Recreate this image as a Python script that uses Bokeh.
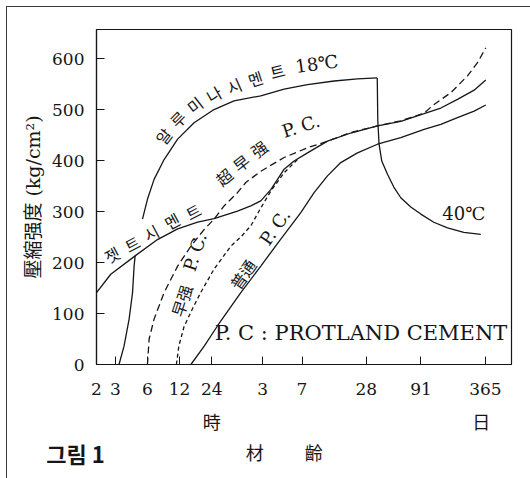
from bokeh.plotting import figure
from bokeh.models import FixedTicker, ColumnDataSource, Range1d, LogAxis
from bokeh.core.properties import value
from bokeh.embed import file_html
from bokeh.resources import INLINE

# ---- data (age in hours, compressive strength in kg/cm2) ----
x_ticks = [2, 3, 6, 12, 24, 72, 168, 672, 2184, 8760]
x_tick_labels = ["2", "3", "6", "12", "24", "3", "7", "28", "91", "365"]
y_ticks = [0, 100, 200, 300, 400, 500, 600]

jet_h = [2.0, 2.72, 4.60, 7.45, 11.5, 17.7, 25.2, 41.8, 55.7, 69.1, 85.7, 99.1,
         114.2, 141.6, 189, 291, 481, 855, 1413, 2335, 3350, 4800, 6870, 8830]
jet_v = [141, 177, 213, 245, 266, 279, 286, 301, 311, 321, 343, 363,
         383, 399, 415, 438, 454, 468, 477, 492, 503, 520, 538, 558]

jet_rise_h = [3.25, 3.62, 4.04, 4.35, 4.50, 4.60]
jet_rise_v = [0, 36, 89, 141, 193, 213]

alumina_h = [5.39, 6.00, 6.92, 8.59, 11.5, 16.4, 25.2, 38.8, 69.1, 114.2, 189, 336, 556, 851]
alumina_v = [285, 324, 363, 402, 442, 474, 500, 517, 527, 540, 549, 556, 560, 562]

alumina40_h = [851, 861, 885, 938, 1061, 1216, 1413, 1753, 2177, 2878, 3871, 5495, 7930]
alumina40_v = [562, 478, 432, 399, 373, 348, 327, 309, 295, 279, 268, 259, 255]

super_h = [6.00, 6.22, 6.92, 8.59, 11.5, 15.3, 20.4, 25.2, 31.3, 41.8, 50.0, 69.1,
           114.2, 189, 291, 481, 855, 1413, 2335, 2897, 4152, 5955, 7385, 8830]
super_v = [0, 50, 89, 141, 193, 232, 265, 285, 311, 337, 357, 379,
           406, 425, 438, 455, 468, 478, 493, 510, 533, 566, 592, 621]

early_h = [11.2, 11.8, 13.2, 15.8, 18.9, 25.2, 36.2, 44.9, 55.7, 69.1, 85.7, 114.2, 152.4]
early_v = [0, 36, 74, 109, 141, 187, 232, 250, 272, 307, 340, 376, 402]

normal_h = [15.3, 20.4, 27.2, 44.9, 69.1, 106.3, 163.7, 218, 291, 387.5, 555.6, 855,
            1413, 2335, 3350, 4800, 6870, 8830]
normal_v = [0, 36, 76, 141, 193, 246, 298, 337, 370, 396, 415, 432,
            445, 461, 471, 484, 497, 509]

# in-plot labels
lab_text = ["알", "루", "미", "나", "시", "멘", "트", "18℃",
            "젯", "트", "시", "멘", "트",
            "超", "早", "强", "P. C.",
            "早强", "P. C.",
            "普通", "P. C.",
            "P. C : PROTLAND CEMENT", "40℃"]
lab_h = [8.72, 11.79, 17.0, 25.6, 39.4, 62.0, 99.7, 231,
         2.84, 4.375, 6.59, 10.36, 16.3,
         31.8, 45.9, 67.6, 163.7,
         12.85, 16.65,
         47.9, 93.4,
         600, 5495]
lab_v = [446, 479, 507, 528, 544, 558, 573, 590,
         213, 234, 256, 279, 297,
         366, 393, 421, 468,
         124.5, 220.6,
         175.5, 269.6,
         62, 296]
lab_angle = [52, 45, 38, 30, 24, 18, 14, 8,
             28, 28, 28, 28, 28,
             40, 38, 35, 18,
             72, 72,
             55, 55,
             0, 0]
lab_size = ["16px"] * 7 + ["18px"] + ["16px"] * 5 + ["16px"] * 3 + ["18px"] + \
           ["16px", "18px", "16px", "18px", "21px", "18px"]

# texts below the axis
unit_ticks = [24, 8000]
unit_labels = ["時", "日"]
title_ticks = [60.7, 216.6]
title_labels = ["材", "齡"]
fig_ticks = [2.0001]
fig_labels = ["그림  1\u3000   "]

FONT = "DejaVu Serif, Noto Sans CJK KR"
CJK = "Noto Sans CJK KR"
INK = "#161616"

p = figure(width=530, height=478, x_axis_type="log",
           x_range=Range1d(2, 15380), y_range=Range1d(0, 657),
           output_backend="svg", toolbar_location=None,
           min_border_left=96, min_border_right=19,
           min_border_top=29, min_border_bottom=114)
p.styles = {"box-shadow": "inset 6px 6px 0 0 white, inset 7px 7px 0 0 #3a3a3a"}
p.xgrid.visible = False
p.ygrid.visible = False
p.outline_line_color = INK
p.outline_line_width = 1.2
p.background_fill_color = "white"
p.border_fill_color = None

for ax in (p.xaxis[0], p.yaxis[0]):
    ax.major_tick_in = 8
    ax.major_tick_out = 0
    ax.minor_tick_line_color = None
    ax.axis_line_color = INK
    ax.axis_line_width = 1.2
    ax.major_tick_line_color = INK
    ax.major_label_text_font = FONT
    ax.major_label_text_font_size = "17px"
    ax.major_label_text_color = INK

p.xaxis.ticker = FixedTicker(ticks=x_ticks)
p.xaxis.major_label_overrides = {t: s for t, s in zip(x_ticks, x_tick_labels)}
p.xaxis.major_label_standoff = 18
p.yaxis.ticker = FixedTicker(ticks=y_ticks)
p.yaxis.major_label_standoff = 12
p.yaxis.axis_label = "壓縮强度 (kg/cm²)"
p.yaxis.axis_label_text_font = FONT
p.yaxis.axis_label_text_font_style = "normal"
p.yaxis.axis_label_text_font_size = "19px"
p.yaxis.axis_label_text_color = INK
p.yaxis.axis_label_standoff = 5


def text_axis(ticks, labels, standoff, size, style):
    ax = LogAxis(ticker=FixedTicker(ticks=ticks),
                 major_label_overrides={t: s for t, s in zip(ticks, labels)},
                 axis_line_color=None, major_tick_line_color=None,
                 minor_tick_line_color=None, major_tick_in=0, major_tick_out=0,
                 major_label_standoff=standoff, major_label_text_font=CJK,
                 major_label_text_font_size=size, major_label_text_font_style=style,
                 major_label_text_color=INK)
    p.add_layout(ax, "below")


text_axis(unit_ticks, unit_labels, 10, "18px", "normal")
text_axis(title_ticks, title_labels, 2, "18px", "normal")
text_axis(fig_ticks, fig_labels, -31, "22px", "bold")

lw = 1.3
p.line(jet_h, jet_v, line_color=INK, line_width=lw)
p.line(jet_rise_h, jet_rise_v, line_color=INK, line_width=lw)
p.line(alumina_h, alumina_v, line_color=INK, line_width=lw)
p.line(alumina40_h, alumina40_v, line_color=INK, line_width=lw)
p.line(normal_h, normal_v, line_color=INK, line_width=lw)
p.line(super_h, super_v, line_color=INK, line_width=lw, line_dash="7 4")
p.line(early_h, early_v, line_color=INK, line_width=lw, line_dash="4 3")

src = ColumnDataSource(dict(x=lab_h, y=lab_v, text=lab_text, angle=lab_angle, size=lab_size))
p.text(x="x", y="y", text="text", angle="angle", angle_units="deg",
       text_font_size="size", text_font=value(FONT), text_color=INK,
       text_align="center", text_baseline="middle", source=src)

open("out.html", "w").write(file_html(p, INLINE))
